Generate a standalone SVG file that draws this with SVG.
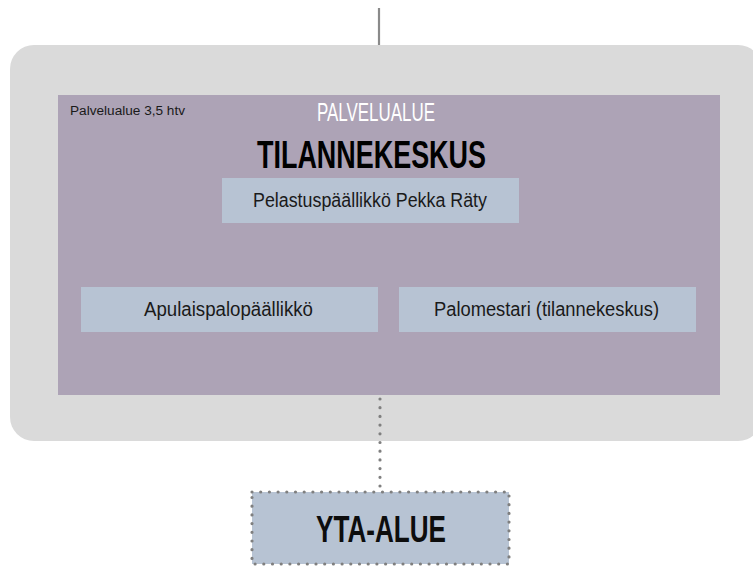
<svg xmlns="http://www.w3.org/2000/svg" width="753" height="566" viewBox="0 0 753 566">
<style>
.box{fill:#b7c3d3}
.lbl{font-family:"Liberation Sans",Arial,sans-serif;fill:#1a1a1a;text-anchor:start}
.dot{fill:none;stroke:#7f7f7f;stroke-width:3.2;stroke-linecap:round;stroke-dasharray:0 8.7}
</style>
<rect x="0" y="0" width="753" height="566" fill="#ffffff"/>
<g id="connectors">
<line x1="379" y1="8" x2="379" y2="95" stroke="#8a8a8a" stroke-width="2.2"/>
</g>
<g id="palvelualue">
<rect x="10" y="45" width="752" height="396" rx="24" ry="24" fill="#dadada"/>
<rect x="58" y="95" width="662" height="300" fill="#ada3b6"/>
<text x="70" y="115" class="lbl" font-size="12" textLength="115" lengthAdjust="spacingAndGlyphs">Palvelualue 3,5 htv</text>
<text x="317" y="121" font-family="Liberation Sans,Arial,sans-serif" font-size="26" fill="#ffffff" textLength="118" lengthAdjust="spacingAndGlyphs">PALVELUALUE</text>
<text x="257" y="168" font-family="Liberation Sans,Arial,sans-serif" font-size="39" font-weight="bold" fill="#000000" textLength="229" lengthAdjust="spacingAndGlyphs">TILANNEKESKUS</text>
</g>
<g id="connectors2">
<line x1="380" y1="399" x2="380" y2="488" class="dot"/>
</g>
<g id="pelastuspaallikko">
<rect x="222" y="178" width="297" height="45" class="box"/>
<text x="253" y="207" class="lbl" font-size="20" textLength="234" lengthAdjust="spacingAndGlyphs">Pelastuspäällikkö Pekka Räty</text>
</g>
<g id="apulaispalopaallikko">
<rect x="81" y="287" width="297" height="45" class="box"/>
<text x="144" y="316" class="lbl" font-size="20" textLength="169" lengthAdjust="spacingAndGlyphs">Apulaispalopäällikkö</text>
</g>
<g id="palomestari">
<rect x="399" y="287" width="297" height="45" class="box"/>
<text x="434" y="316" class="lbl" font-size="20" textLength="225" lengthAdjust="spacingAndGlyphs">Palomestari (tilannekeskus)</text>
</g>
<g id="yta-alue">
<rect x="252" y="492" width="257" height="72" class="box"/>
<rect x="252" y="492" width="257" height="72" class="dot"/>
<text x="316" y="542" font-family="Liberation Sans,Arial,sans-serif" font-size="36" font-weight="bold" fill="#0d0d0d" textLength="130" lengthAdjust="spacingAndGlyphs">YTA-ALUE</text>
</g>
</svg>
